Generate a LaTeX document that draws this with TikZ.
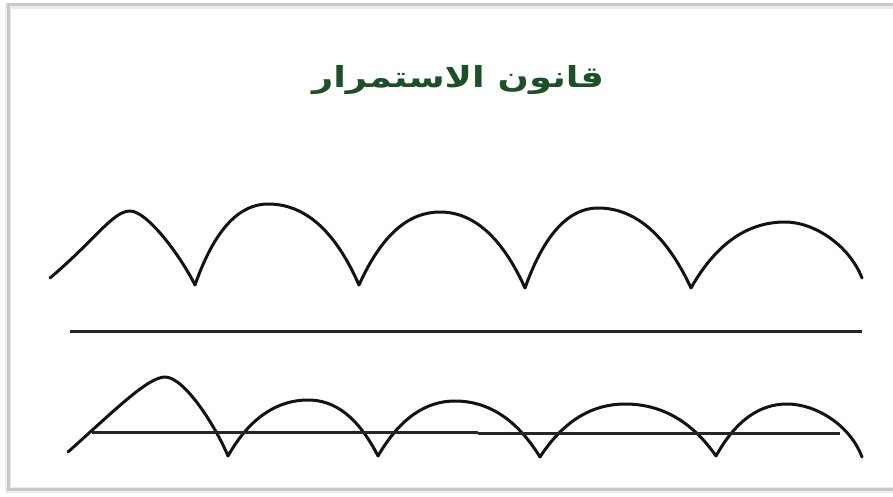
\documentclass[tikz,border=0pt]{standalone}
\usepackage{fontspec}
\TeXXeTstate=1
\newfontfamily\arabicfont[Script=Arabic]{DejaVu Sans}
\definecolor{titlegreen}{RGB}{28,80,38}
\definecolor{framegray}{RGB}{200,200,200}
\definecolor{inkcol}{RGB}{18,18,18}
\begin{document}
\begin{tikzpicture}[x=1pt,y=-1pt,
  curve/.style={line width=3pt, line join=round, line cap=round, draw=inkcol},
  rule/.style={line width=3pt, draw=inkcol!92},
  frameline/.style={line width=3pt, draw=framegray}]
\useasboundingbox (0,0) rectangle (893,497);
\fill[white] (0,0) rectangle (893,497);
% frame (shadowed border)
\draw[line width=6pt, draw=framegray!35] (893,6) -- (8,6) -- (8,490) -- (893,490);
\draw[frameline] (893,5) -- (8,5) -- (8,489) -- (893,489);
% title
\node[text=titlegreen, font=\arabicfont\bfseries\fontsize{29}{34}\selectfont] (title) at (458,80) {\scalebox{1.27}[1]{\beginR قانون الاستمرار\endR}};
% top row of arches
\draw[curve] (50,278) .. controls (95,240) and (113,211) .. (130,211)
  .. controls (147,211) and (180,255) .. (195,285)
  .. controls (215,228) and (240,204) .. (268,204)
  .. controls (303,204) and (334,228) .. (359,285)
  .. controls (382,234) and (409,212) .. (440,212)
  .. controls (472,212) and (501,235) .. (525,288)
  .. controls (545,232) and (570,208) .. (598,208)
  .. controls (633,208) and (665,232) .. (691,288)
  .. controls (717,242) and (749,222) .. (785,222)
  .. controls (814,222) and (849,245) .. (862,278);
% divider line
\coordinate (d1) at (70,331);
\coordinate (d2) at (862,331);
\draw[rule] (d1) -- (d2);
% bottom row of arches
\draw[curve] (68,452) .. controls (115,410) and (148,377) .. (165,377)
  .. controls (184,377) and (215,425) .. (228,456)
  .. controls (250,417) and (278,400) .. (308,400)
  .. controls (335,400) and (358,417) .. (378,456)
  .. controls (400,418) and (426,401) .. (455,401)
  .. controls (487,401) and (516,418) .. (540,457)
  .. controls (564,420) and (593,404) .. (625,404)
  .. controls (660,404) and (691,420) .. (716,456)
  .. controls (736,420) and (760,404) .. (787,404)
  .. controls (816,404) and (850,425) .. (862,457);
% crossing line
\coordinate (b1) at (92,432);
\coordinate (b2) at (478,432);
\coordinate (b3) at (478,433);
\coordinate (b4) at (840,433);
\draw[rule] (b1) -- (b2);
\draw[rule] (b3) -- (b4);
\end{tikzpicture}
\end{document}
